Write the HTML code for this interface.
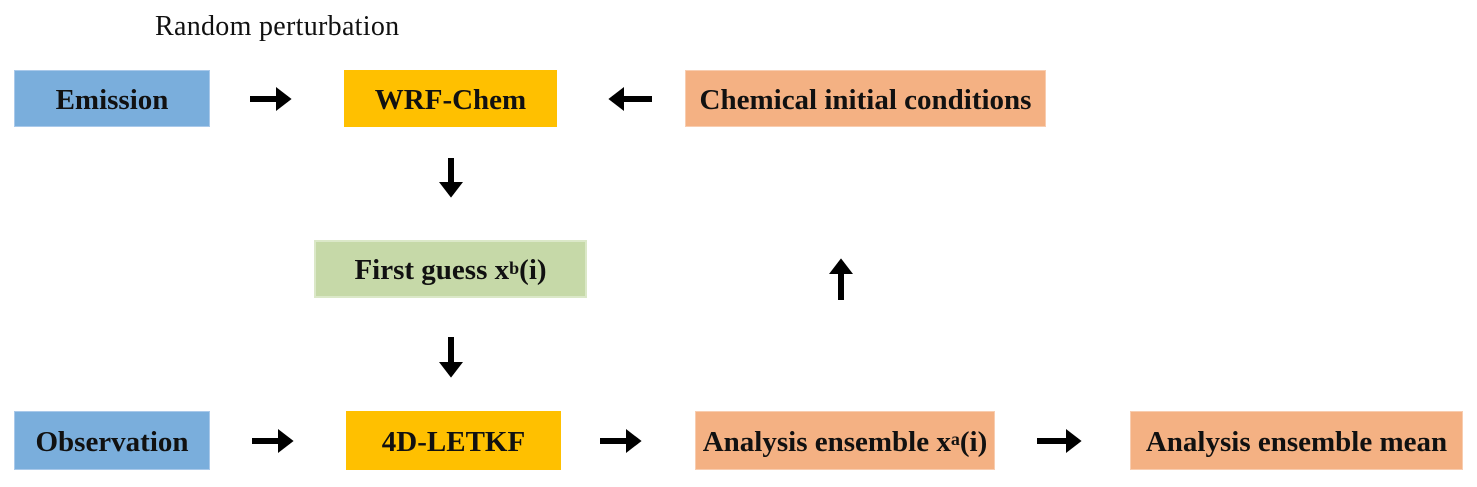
<!DOCTYPE html>
<html><head><style>
body{margin:0;width:1477px;height:487px;background:#fff;position:relative;overflow:hidden;font-family:"Liberation Serif",serif}
.b{position:absolute;display:flex;align-items:center;justify-content:center;font-weight:bold;font-size:29px;color:#111;box-sizing:border-box;padding-top:3px;white-space:nowrap}
.blue{background:#7aaedc;border:1px solid #a9c9ea}
.yel{background:#ffc000}
.org{background:#f4b183;border:1px solid #f8cdb0}
.grn{background:#c6d9a8;border:2px solid #dbe8c8}
sup{font-size:18px;line-height:0;position:relative;top:-3px}
</style></head><body>
<div style="position:absolute;left:155px;top:11px;font-size:28px;color:#111;letter-spacing:0.3px">Random perturbation</div>
<div class="b blue" style="left:14px;top:70px;width:196px;height:57px">Emission</div>
<div class="b yel" style="left:344px;top:70px;width:213px;height:57px">WRF-Chem</div>
<div class="b org" style="left:685px;top:70px;width:361px;height:57px">Chemical initial conditions</div>
<div class="b grn" style="left:314px;top:240px;width:273px;height:58px">First guess x<sup>b</sup>(i)</div>
<div class="b blue" style="left:14px;top:411px;width:196px;height:59px">Observation</div>
<div class="b yel" style="left:346px;top:411px;width:215px;height:59px">4D-LETKF</div>
<div class="b org" style="left:695px;top:411px;width:300px;height:59px">Analysis ensemble x<sup>a</sup>(i)</div>
<div class="b org" style="left:1130px;top:411px;width:333px;height:59px">Analysis ensemble mean</div>
<svg width="1477" height="487" style="position:absolute;left:0;top:0">
<defs><marker id="a" markerWidth="4" markerHeight="4" refX="2" refY="2" orient="auto" markerUnits="strokeWidth"><path d="M0,0L2.6,2L0,4z" fill="#000"/></marker></defs>
<g stroke="#000" stroke-width="6" fill="none" marker-end="url(#a)">
<line x1="250" y1="99" x2="288" y2="99"/>
<line x1="652" y1="99" x2="612" y2="99"/>
<line x1="451" y1="158" x2="451" y2="194"/>
<line x1="451" y1="337" x2="451" y2="374"/>
<line x1="841" y1="300" x2="841" y2="262"/>
<line x1="252" y1="441" x2="290" y2="441"/>
<line x1="600" y1="441" x2="638" y2="441"/>
<line x1="1037" y1="441" x2="1078" y2="441"/>
</g></svg>
</body></html>
